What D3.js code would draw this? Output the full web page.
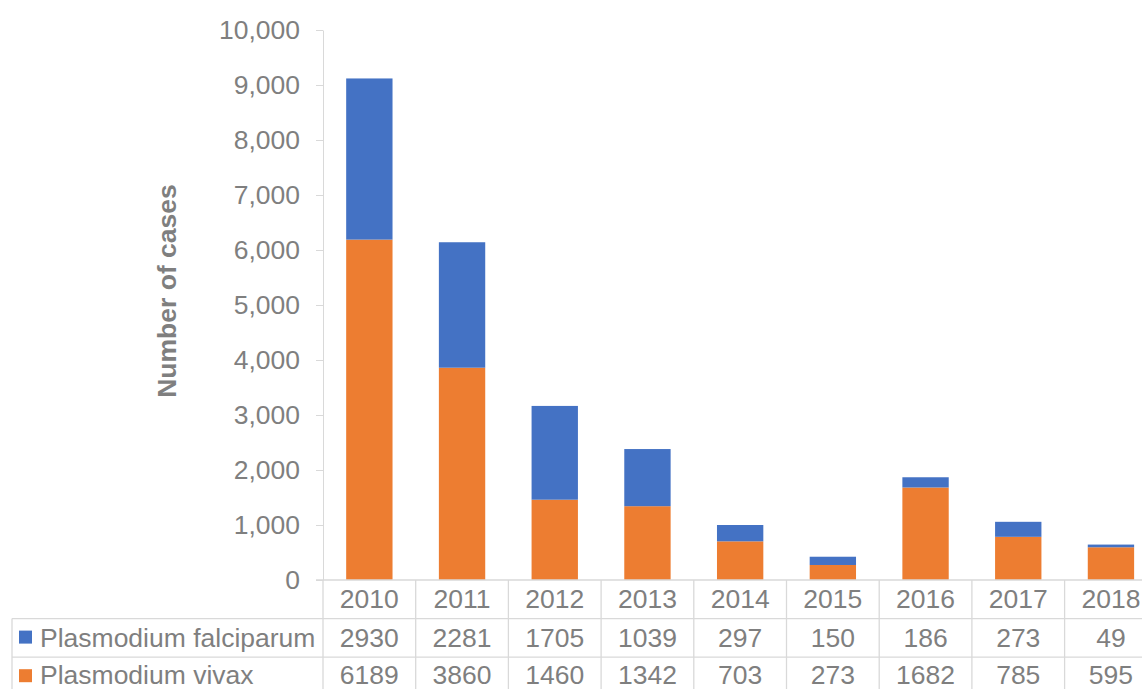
<!DOCTYPE html>
<html>
<head>
<meta charset="utf-8">
<script src="https://cdn.jsdelivr.net/npm/d3@7"></script>
<style>
  html, body { margin: 0; padding: 0; background: #fff; overflow: hidden; }
  svg { display: block; font-family: "Liberation Sans", Arial, sans-serif; }
</style>
</head>
<body>
<div id="chart"></div>
<script>
var years = ["2010", "2011", "2012", "2013", "2014", "2015", "2016", "2017", "2018"];
var falciparum = [2930, 2281, 1705, 1039, 297, 150, 186, 273, 49];
var vivax = [6189, 3860, 1460, 1342, 703, 273, 1682, 785, 595];
var yTicks = [0, 1000, 2000, 3000, 4000, 5000, 6000, 7000, 8000, 9000, 10000];
var seriesNames = ["Plasmodium falciparum", "Plasmodium vivax"];

function init() {
    var W = 1142, H = 689;
    var left = 323, right = 323 + 9 * 92.7, top = 30, bottom = 580;
    var rowH = 38.6;
    var textColor = "#7f7f7f", lineColor = "#d9d9d9";
    var colors = ["#4472c4", "#ed7d31"];
    var fs = "26.5px";

    var svg = d3.select("#chart")
        .append("svg")
        .attr("width", W)
        .attr("height", H);

    var x = d3.scaleBand()
        .domain(years)
        .range([left, right])
        .paddingInner(0.5)
        .paddingOuter(0.25);

    var cell = d3.scaleBand()
        .domain(years)
        .range([left, right]);

    var y = d3.scaleLinear()
        .domain([0, 10000])
        .range([bottom, top]);

    // y axis
    var yAxis = svg.append("g")
        .attr("transform", "translate(" + left + ",0)")
        .call(d3.axisLeft(y).tickValues(yTicks).tickSize(7).tickSizeOuter(0).tickPadding(16).tickFormat(d3.format(",")));
    yAxis.select(".domain").attr("stroke", lineColor);
    yAxis.selectAll(".tick line").attr("stroke", lineColor);
    yAxis.selectAll(".tick text")
        .attr("fill", textColor)
        .style("font-size", fs);

    svg.append("text")
        .attr("transform", "translate(176," + 291 + ") rotate(-90)")
        .attr("text-anchor", "middle")
        .attr("fill", textColor)
        .style("font-size", "26.5px")
        .style("font-weight", "bold")
        .text("Number of cases");

    // stacked bars
    var rows = years.map(function (yr, i) {
        return { year: yr, vivax: vivax[i], falciparum: falciparum[i] };
    });
    var stack = d3.stack().keys(["vivax", "falciparum"])(rows);
    var stackColor = { vivax: colors[1], falciparum: colors[0] };

    svg.append("g")
        .selectAll("g")
        .data(stack)
        .enter()
        .append("g")
        .attr("fill", function (d) { return stackColor[d.key]; })
        .selectAll("rect")
        .data(function (d) { return d; })
        .enter()
        .append("rect")
        .attr("x", function (d) { return x(d.data.year); })
        .attr("width", x.bandwidth())
        .attr("y", function (d) { return y(d[1]); })
        .attr("height", function (d) { return y(d[0]) - y(d[1]); });

    // data table
    var table = svg.append("g");
    var grid = table.append("g").attr("stroke", lineColor).attr("stroke-width", 1.3);

    grid.append("line")
        .attr("x1", left - 7).attr("x2", right)
        .attr("y1", bottom).attr("y2", bottom);
    grid.selectAll(".row")
        .data([1, 2, 3])
        .enter()
        .append("line")
        .attr("x1", 12).attr("x2", right)
        .attr("y1", function (d) { return bottom + d * rowH; })
        .attr("y2", function (d) { return bottom + d * rowH; });
    grid.append("line")
        .attr("x1", 12).attr("x2", 12)
        .attr("y1", bottom + rowH).attr("y2", bottom + 3 * rowH);
    grid.selectAll(".col")
        .data(years.concat(["end"]))
        .enter()
        .append("line")
        .attr("x1", function (d, i) { return left + i * cell.step(); })
        .attr("x2", function (d, i) { return left + i * cell.step(); })
        .attr("y1", bottom)
        .attr("y2", bottom + 3 * rowH);

    table.selectAll(".yr")
        .data(years)
        .enter()
        .append("text")
        .attr("x", function (d) { return cell(d) + cell.bandwidth() / 2; })
        .attr("y", bottom + rowH / 2 + 9)
        .attr("text-anchor", "middle")
        .attr("fill", textColor)
        .style("font-size", fs)
        .text(function (d) { return d; });

    [falciparum, vivax].forEach(function (vals, r) {
        var ry = bottom + (r + 1) * rowH;
        var base = ry + rowH / 2 + 9 - r * 2;
        table.append("rect")
            .attr("x", 19).attr("y", ry + 12)
            .attr("width", 13).attr("height", 13)
            .attr("fill", colors[r]);
        table.append("text")
            .attr("x", 40).attr("y", base)
            .attr("fill", textColor)
            .style("font-size", fs)
            .text(seriesNames[r]);
        table.selectAll(".v" + r)
            .data(vals)
            .enter()
            .append("text")
            .attr("x", function (d, i) { return cell(years[i]) + cell.bandwidth() / 2; })
            .attr("y", base)
            .attr("text-anchor", "middle")
            .attr("fill", textColor)
            .style("font-size", fs)
            .text(function (d) { return d; });
    });
}

window.onload = init;
</script>
</body>
</html>
